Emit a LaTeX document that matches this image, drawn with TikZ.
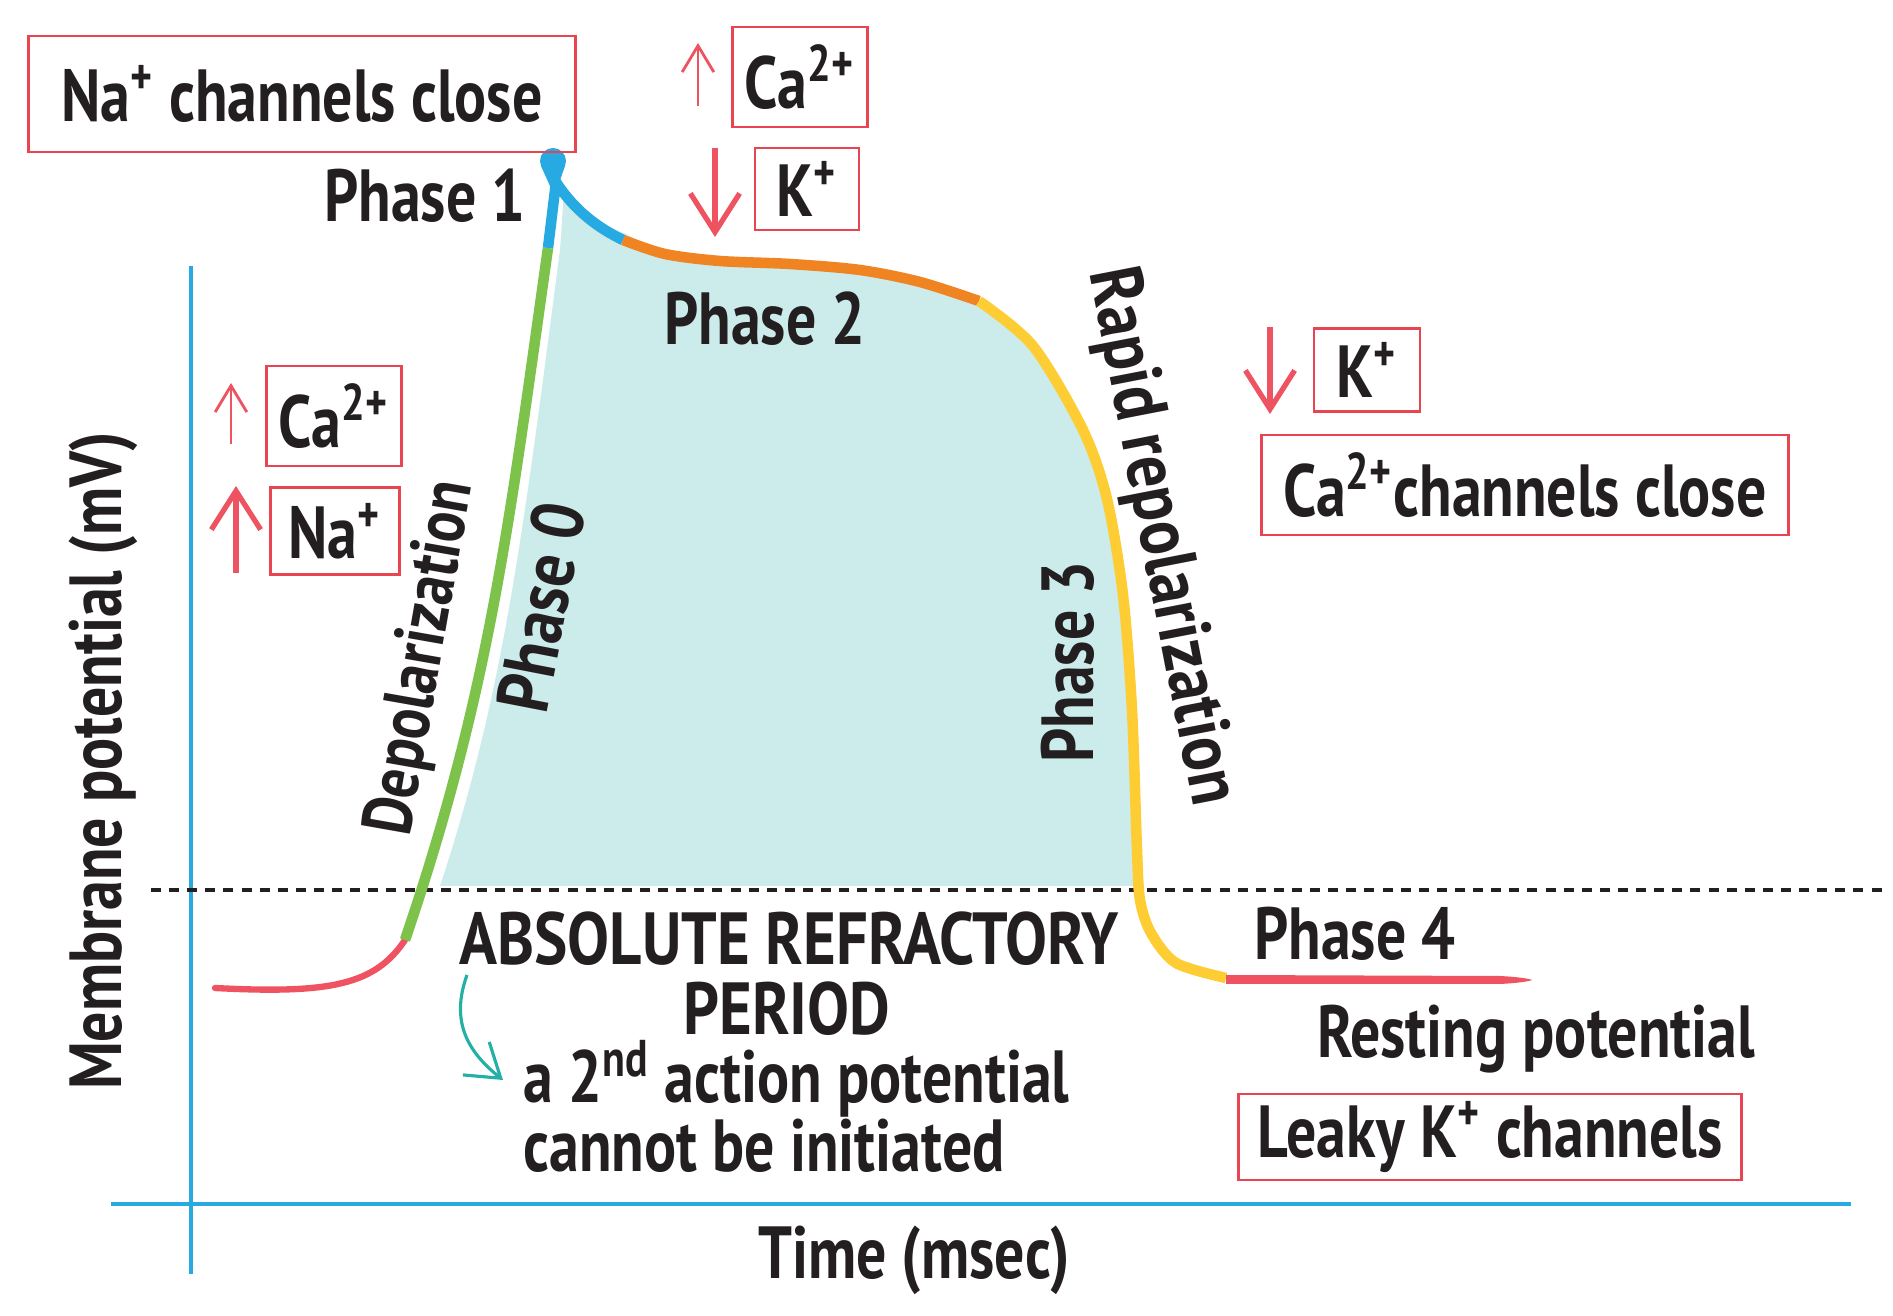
\documentclass[tikz,border=0pt]{standalone}
\usepackage{fontspec}
\setmainfont{PT Sans}[FakeStretch=0.81, UprightFont=* Bold]
\newfontfamily\widefont{PT Sans}[FakeStretch=0.85, UprightFont=* Bold]
\usetikzlibrary{arrows.meta}
\definecolor{ink}{HTML}{231F20}
\definecolor{boxred}{HTML}{E84452}
\definecolor{arrowred}{HTML}{EE5362}
\definecolor{curvered}{HTML}{EF5361}
\definecolor{cgreen}{HTML}{7DC24A}
\definecolor{cblue}{HTML}{27AAE1}
\definecolor{corange}{HTML}{F18422}
\definecolor{cyellow}{HTML}{FECC33}
\definecolor{fillteal}{HTML}{CCECEB}
\definecolor{axisblue}{HTML}{27AAE1}
\definecolor{tealarrow}{HTML}{25B0A5}
\begin{document}
\begin{tikzpicture}[x=0.01cm,y=-0.01cm,
  every node/.style={text=ink, font=\fontsize{21}{25}\selectfont, inner sep=0pt},
  widetext/.style={font=\widefont\fontsize{21}{25}\selectfont},
  box/.style={draw=boxred, line width=0.75pt},
  curve/.style={line width=3pt, line cap=butt},
  thinup/.style={draw=arrowred, line width=0.8pt, -{Straight Barb[length=7.5pt,width=9pt]}},
  thickup/.style={draw=arrowred, line width=1.5pt, -{Straight Barb[length=11pt,width=14pt,line width=1.5pt]}},
]
\useasboundingbox (0,0) rectangle (1893,1316);

% axes
\coordinate (ytop) at (191,266);
\coordinate (ybot) at (191,1274);
\coordinate (xl) at (111,1204);
\coordinate (xr) at (1851,1204);
\draw[axisblue, line width=1.1pt] (ytop) -- (ybot);
\draw[axisblue, line width=1.1pt] (xl) -- (xr);

% fill under the action potential
\fill[fillteal] (440,886) .. controls (505,690) and (524,524) .. (560,250) -- (564,190)
  .. controls (580,208) and (600,224) .. (626,234)
  -- plot[smooth] coordinates {(626,234) (665,252) (720,259) (790,262) (860,268) (920,280) (979,299)}
  -- plot[smooth] coordinates {(979,299) (1035,344) (1085,428) (1109,497) (1125,595) (1132,710) (1134,886)}
  -- cycle;

% dashed threshold line
\coordinate (dl) at (151,890);
\coordinate (dr) at (1883,890);
\draw[ink, line width=1.4pt, dash pattern=on 2.85pt off 2.3pt] (dl) -- (dr);

% curve segments
\coordinate (p0) at (215,988);
\coordinate (p1) at (405,940);
\coordinate (p2) at (548,248);
\coordinate (p3) at (556,182);
\coordinate (p4) at (623,240);
\coordinate (p5) at (979,301);
\coordinate (p6) at (1226,978);
\coordinate (p7) at (1532,980);
\draw[curvered, line width=1.8pt, line cap=round] (p0) .. controls (330,994) and (375,985) .. (p1);
\draw[cgreen, curve] (p1) .. controls (490,690) and (509,524) .. (p2);
\draw[cblue, curve] (p2) -- (p3) .. controls (574,210) and (598,228) .. (p4);
\fill[cblue] (553,161) circle[radius=13];
\fill[cblue] (541,166) -- (565,166) -- (558,186) -- (550,186) -- cycle;
\draw[corange, curve] plot[smooth] coordinates {(623,240) (665,254) (720,261) (790,264) (860,270) (920,282) (979,301)};
\draw[cyellow, curve] plot[smooth] coordinates {(979,301) (1033,346) (1083,430) (1107,499) (1123,595) (1132,710) (1137,850) (1140,900) (1151,933) (1176,963) (1226,978)};
\fill[curvered] (1226,975) -- (1500,976) .. controls (1520,977) and (1530,979) .. (p7) .. controls (1530,981) and (1520,983) .. (1500,984) -- (1226,984) -- cycle;

% boxes
\node[box, minimum width=5.47cm, minimum height=1.16cm] (nabox) at (302,94) {Na\textsuperscript{+} channels close};
\node[box, minimum width=1.35cm, minimum height=1.0cm] (catop) at (800,77) {Ca\textsuperscript{2+}};
\node[box, minimum width=1.04cm, minimum height=0.82cm] (ktop) at (807,189) {K\textsuperscript{+}};
\node[box, minimum width=1.06cm, minimum height=0.83cm] (kright) at (1367,370) {K\textsuperscript{+}};
\node[box, minimum width=5.27cm, minimum height=1.0cm] (caclose) at (1525,485) {Ca\textsuperscript{2+}channels close};
\node[box, minimum width=1.35cm, minimum height=1.0cm] (caleft) at (334,416) {Ca\textsuperscript{2+}};
\node[box, minimum width=1.29cm, minimum height=0.87cm] (naleft) at (335,531) {Na\textsuperscript{+}};
\node[box, minimum width=5.03cm, minimum height=0.86cm] (leaky) at (1490,1137) {Leaky K\textsuperscript{+} channels};

% red arrows
\coordinate (a1s) at (698,106); \coordinate (a1e) at (698,43);
\coordinate (a2s) at (715,148); \coordinate (a2e) at (715,237);
\coordinate (a3s) at (1270,327); \coordinate (a3e) at (1270,414);
\coordinate (a4s) at (231,444); \coordinate (a4e) at (231,383);
\coordinate (a5s) at (236,573); \coordinate (a5e) at (236,486);
\draw[thinup] (a1s) -- (a1e);
\draw[thickup] (a2s) -- (a2e);
\draw[thickup] (a3s) -- (a3e);
\draw[thinup] (a4s) -- (a4e);
\draw[thickup] (a5s) -- (a5e);

% labels
\node[anchor=base] (ph1) at (425,222) {Phase 1};
\node[anchor=base] (ph2) at (765,345) {Phase 2};
\node[anchor=base] (ph4) at (1355,960) {Phase 4};
\node[rotate=79, widetext] (ph0) at (541,607) {Phase 0};
\node[anchor=base, rotate=90] (ph3) at (1093,662) {Phase 3};
\node[rotate=80, font=\fontsize{20}{24}\selectfont] (depol) at (423,658) {Depolarization};
\node[rotate=-79, widetext] (rapid) at (1160,537) {Rapid repolarization};
\node[anchor=base, widetext] (abs1) at (789,965) {ABSOLUTE REFRACTORY};
\node[anchor=base, widetext] (abs2) at (787,1035) {PERIOD};
\node[anchor=base west] (sec1) at (523,1103) {a 2\textsuperscript{nd} action potential};
\node[anchor=base west] (sec2) at (523,1172) {cannot be initiated};
\node[anchor=base] (rest) at (1536,1058) {Resting potential};
\node[anchor=base] (time) at (914,1278) {Time (msec)};
\node[anchor=base, rotate=90] (memb) at (121,761) {Membrane potential (mV)};

% teal arrow
\coordinate (t1) at (467,975);
\coordinate (t2) at (503,1080);
\draw[tealarrow, line width=0.9pt, -{Straight Barb[length=9pt,width=12pt]}] (t1) .. controls (450,1022) and (468,1052) .. (t2);
\end{tikzpicture}
\end{document}
